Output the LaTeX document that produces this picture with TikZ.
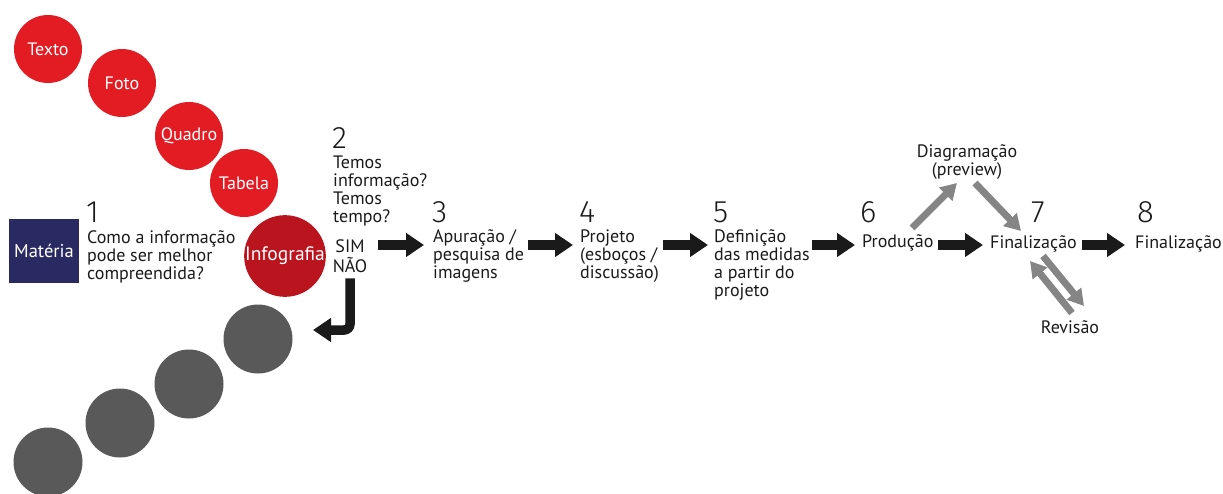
\documentclass[tikz,border=0pt]{standalone}
\usepackage{fontspec}
\setmainfont{PT Sans}
\newfontfamily\numfont{Fira Sans Light}
\usetikzlibrary{arrows.meta,calc}
\definecolor{redc}{HTML}{E31B23}
\definecolor{darkredc}{HTML}{BA141E}
\definecolor{navyc}{HTML}{2A2A62}
\definecolor{grayc}{HTML}{595959}
\definecolor{arrowgray}{HTML}{858585}
\definecolor{ink}{HTML}{1A1A1A}
\begin{document}
\begin{tikzpicture}[x=1pt,y=-1pt,
  % multi-line texts are placed by the baseline of their last line
  txt/.style={font=\fontsize{18}{18}\selectfont, inner sep=0pt, align=left, anchor=base west, text=ink},
  num/.style={font=\numfont\fontsize{31}{31}\selectfont, inner sep=0pt, anchor=base west, text=ink},
  redcirc/.style={circle, fill=redc, minimum size=68pt, inner sep=0pt, text=white, font=\fontsize{18}{18}\selectfont},
  graycirc/.style={circle, fill=grayc, minimum size=69pt, inner sep=0pt},
  bigarrow/.style={draw=ink, line width=9.5pt, -{Triangle[width=23pt,length=18pt]}},
  grayarrow/.style={draw=arrowgray, line width=7pt, -{Triangle[width=18pt,length=16pt]}},
]
\useasboundingbox (0,0) rectangle (1223,493);
\clip (0,0) rectangle (1223,493);

% content types
\node[redcirc] (texto) at (48,49) {Texto};
\node[redcirc] (foto) at (122,83) {Foto};
\node[redcirc] (quadro) at (189,136) {Quadro};
\node[redcirc] (tabela) at (244,183) {Tabela};
\node[redcirc, fill=darkredc, minimum size=81pt, font=\fontsize{19.5}{19.5}\selectfont] (info) at (285,256) {Infografia};

% fallback formats
\node[graycirc] (g1) at (258,339) {};
\node[graycirc] (g2) at (189,384) {};
\node[graycirc] (g3) at (120,423) {};
\node[graycirc] (g4) at (48,462) {};

% source
\node[fill=navyc, minimum width=70pt, minimum height=64pt, inner sep=0pt,
      text=white, font=\fontsize{18.5}{18.5}\selectfont] (materia) at (44,251) {Matéria};

% steps
\node[num] (n1) at (86,222) {1};
\node[txt] (t1) at (87,279) {Como a informação\\pode ser melhor\\compreendida?};

\node[num] (n2) at (332,148) {2};
\node[txt] (t2) at (333,222) {Temos\\informação?\\Temos\\tempo?};
\node[txt, align=center, anchor=base, font=\fontsize{18}{20}\selectfont] (sn) at (350,272) {SIM\\NÃO};

\node[num] (n3) at (432,222) {3};
\node[txt] (t3) at (433,278) {Apuração /\\pesquisa de\\imagens};

\node[num] (n4) at (579,222) {4};
\node[txt] (t4) at (580,278) {Projeto\\(esboços /\\discussão)};

\node[num] (n5) at (713,222) {5};
\node[txt] (t5) at (714,296) {Definição\\das medidas\\a partir do\\projeto};

\node[num] (n6) at (860,222) {6};
\node[txt] (t6) at (862,247) {Produção};

\node[num] (n7) at (1031,222) {7};
\node[txt] (t7) at (990,248) {Finalização};

\node[num] (n8) at (1137,222) {8};
\node[txt] (t8) at (1135,248) {Finalização};

\node[txt, align=center, anchor=base] (diag) at (967,175) {Diagramação\\(preview)};
\node[txt, anchor=base] (rev) at (1070,333) {Revisão};

% main flow
\coordinate (row) at (0,245);
\coordinate (s2) at (378,245);
\coordinate (s3) at (528,245);
\coordinate (s4) at (663,245);
\coordinate (s5) at (812,245);
\coordinate (s6) at (938,245);
\coordinate (s7) at (1082,245);
\draw[bigarrow] (s2) -- ($(t3.west |- row)+(-9,0)$);
\draw[bigarrow] (s3) -- ($(t4.west |- row)+(-7,0)$);
\draw[bigarrow] (s4) -- ($(t5.west |- row)+(-6,0)$);
\draw[bigarrow] (s5) -- ($(t6.west |- row)+(-7,0)$);
\draw[bigarrow] (s6) -- ($(t7.west |- row)+(-7,0)$);
\draw[bigarrow] (s7) -- ($(t8.west |- row)+(-10,0)$);

% "no" branch back to the other formats
\coordinate (back) at (313,330);
\draw[bigarrow, rounded corners=6pt] ([yshift=-6pt]sn.south) |- (back);

% side loops
\coordinate (d1) at (912,228);
\coordinate (d2) at (957,183);
\coordinate (d3) at (975,183);
\coordinate (d4) at (1021,231);
\draw[grayarrow] (d1) -- (d2);
\draw[grayarrow] (d3) -- (d4);
\coordinate (r1) at (1043,256);
\coordinate (r2) at (1084,306);
\coordinate (r3) at (1072,313);
\coordinate (r4) at (1030,261);
\draw[grayarrow] (r1) -- (r2);
\draw[grayarrow] (r3) -- (r4);
\end{tikzpicture}
\end{document}
